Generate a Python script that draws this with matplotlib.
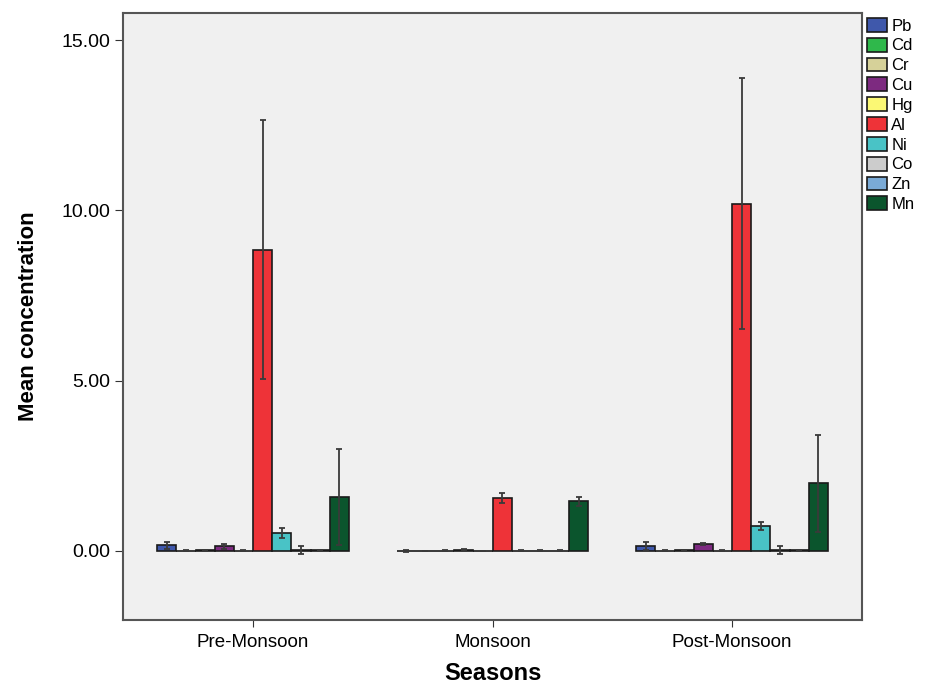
import matplotlib
matplotlib.use("Agg")
import matplotlib.pyplot as plt
import numpy as np

plt.rcParams['font.family'] = ['Liberation Sans', 'DejaVu Sans']

# Data: mean concentration per season and metal, with error bar half-widths
seasons = ["Pre-Monsoon", "Monsoon", "Post-Monsoon"]
metals = ["Pb", "Cd", "Cr", "Cu", "Hg", "Al", "Ni", "Co", "Zn", "Mn"]

pre_means = [0.16, 0.01, 0.02, 0.13, 0.01, 8.85, 0.53, 0.02, 0.02, 1.58]
mon_means = [0.01, 0.00, 0.01, 0.03, 0.01, 1.55, 0.01, 0.01, 0.01, 1.46]
post_means = [0.15, 0.01, 0.02, 0.20, 0.01, 10.20, 0.73, 0.02, 0.02, 1.98]

pre_err = [0.11, 0.01, 0.01, 0.08, 0.01, 3.80, 0.14, 0.12, 0.02, 1.41]
mon_err = [0.03, 0.00, 0.01, 0.02, 0.00, 0.14, 0.02, 0.02, 0.01, 0.13]
post_err = [0.12, 0.01, 0.01, 0.04, 0.01, 3.68, 0.13, 0.12, 0.02, 1.43]

colors = ["#3f58ab", "#2fb84b", "#d6d199", "#7d2a80", "#fbf874",
          "#ee3338", "#49c3c6", "#cccccc", "#7aaad6", "#0b552d"]

means = np.array([pre_means, mon_means, post_means])
errs = np.array([pre_err, mon_err, post_err])

fig = plt.figure(figsize=(9.28, 6.86), dpi=100)
ax = fig.add_axes([0.1325, 0.0962, 0.7965, 0.885])
ax.set_facecolor("#f0f0f0")

x = np.arange(len(seasons))
w = 0.08
for i, m in enumerate(metals):
    pos = x - 0.4 + w * (i + 0.5)
    ax.bar(pos, means[:, i], w, color=colors[i], edgecolor="#1a1a1a",
           linewidth=1.2, label=m, zorder=2)
    ax.errorbar(pos, means[:, i], yerr=errs[:, i], fmt="none",
                ecolor="#3a3a3a", elinewidth=1.3, capsize=2.5, capthick=1.3,
                zorder=3)

ax.set_xlim(-0.543, 2.543)
ax.set_ylim(-2.03, 15.8)
ax.set_yticks([0, 5, 10, 15])
ax.set_yticklabels(["0.00", "5.00", "10.00", "15.00"])
ax.set_xticks(x)
ax.set_xticklabels(seasons)
ax.tick_params(axis="y", labelsize=14, direction="out", length=6,
               color="#333333", pad=3)
ax.tick_params(axis="x", labelsize=13.5, direction="out", length=5,
               color="#333333", pad=5)
ax.tick_params(top=False, right=False)
for s in ax.spines.values():
    s.set_color("#555555")
    s.set_linewidth(1.5)

ax.set_ylabel("Mean concentration", fontsize=16, fontweight="bold",
              labelpad=16)
ax.set_xlabel("Seasons", fontsize=17, fontweight="bold", labelpad=8)

ax.legend(loc="upper left", bbox_to_anchor=(1.0, 1.0), frameon=False,
          fontsize=12, handlelength=1.2, handleheight=0.9,
          handletextpad=0.25, labelspacing=0.25, borderaxespad=0.2,
          borderpad=0.1)

fig.savefig("out.png", dpi=100)
